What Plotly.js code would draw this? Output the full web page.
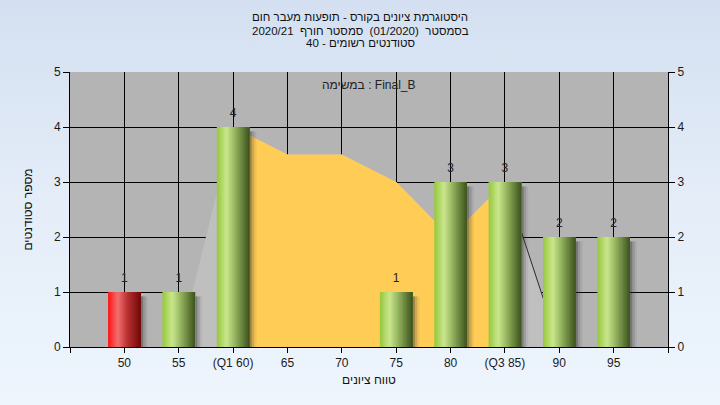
<!DOCTYPE html>
<html><head><meta charset="utf-8">
<script src="https://cdn.plot.ly/plotly-3.0.1.min.js"></script>
<style>
html,body{margin:0;padding:0;}
body{width:720px;height:405px;background:linear-gradient(to bottom,#d4e0f1 0%,#e4edf8 50%,#eef5fd 100%);overflow:hidden;}
#chart{width:720px;height:405px;}
</style></head><body><div id="chart"></div>
<script>
// ---- data ----
const categories = ['50','55','(Q1 60)','65','70','75','80','(Q3 85)','90','95'];
const gradeValues = [50,55,60,65,70,75,80,85,90,95];
const studentCounts = [1,1,4,0,0,1,3,3,2,2];
const failGrades = [50];
const outerAreaX = [55,60,65,70,75,80,85,90];
const outerAreaY = [0,4,3.5,3.5,3,2,3,0];
const iqrAreaX = [60,65,70,75,80,85];
const iqrAreaY = [4,3.5,3.5,3,2,3];
const edgeLineX = [85,90];
const edgeLineY = [3,0];
const titleLines = ['היסטוגרמת ציונים בקורס - תופעות מעבר חום','בסמסטר  (01/2020)  סמסטר חורף  2020/21','סטודנטים רשומים - 40'];
const taskLabel = 'במשימה : Final_B';
const xTitle = 'טווח ציונים';
const yTitle = 'מספר סטודנטים';

// ---- styling ----
const FONT = 'Liberation Sans, Arial, sans-serif';
const BAR_W = 3;
const N = 24;
const greenStops = [[0,[150,200,58]],[0.3,[202,230,142]],[0.55,[150,182,96]],[1,[60,82,28]]];
const redStops = [[0,[255,18,18]],[0.3,[240,112,112]],[0.6,[185,48,48]],[1,[112,8,8]]];
function grad(stops,t){
  for(let i=0;i<stops.length-1;i++){
    const [t0,c0]=stops[i],[t1,c1]=stops[i+1];
    if(t>=t0&&t<=t1){const f=(t-t0)/(t1-t0);
      return 'rgb('+c0.map((v,k)=>Math.round(v+(c1[k]-v)*f)).join(',')+')';}
  }
  return 'rgb('+stops[stops.length-1][1].join(',')+')';
}
const traces = [];
// background areas on base subplot
traces.push({type:'scatter',x:outerAreaX,y:outerAreaY,fill:'tozeroy',fillcolor:'#bfbfbf',mode:'none',hoverinfo:'skip',showlegend:false});
traces.push({type:'scatter',x:iqrAreaX,y:iqrAreaY,fill:'tozeroy',fillcolor:'#ffcc56',mode:'none',hoverinfo:'skip',showlegend:false});
traces.push({type:'scatter',x:edgeLineX,y:edgeLineY,mode:'lines',line:{color:'#2a2a2a',width:1},hoverinfo:'skip',showlegend:false});
// bars on overlaying subplot (drawn above the areas)
const shadowY = studentCounts.map(v=>v>0?v-0.08:0);
[[0.0,0.22,'rgba(40,40,40,0.45)'],[0.22,0.22,'rgba(60,60,60,0.25)'],[0.44,0.2,'rgba(80,80,80,0.1)']].forEach(([o,w,c])=>{
  traces.push({type:'bar',xaxis:'x2',yaxis:'y2',x:gradeValues,y:shadowY,width:w,offset:BAR_W/2+o,marker:{color:c,line:{width:0}},hoverinfo:'skip',showlegend:false});
});
for(let i=0;i<N;i++){
  const t=(i+0.5)/N;
  traces.push({type:'bar',xaxis:'x2',yaxis:'y2',x:gradeValues,y:studentCounts,width:BAR_W-i*BAR_W/N,offset:-BAR_W/2+i*BAR_W/N,
    marker:{color:gradeValues.map(g=>failGrades.includes(g)?grad(redStops,t):grad(greenStops,t)),line:{width:0}},
    hoverinfo:'skip',showlegend:false});
}
const lx=[],ly=[],lt=[];
gradeValues.forEach((g,i)=>{if(studentCounts[i]>0){lx.push(g);ly.push(studentCounts[i]);lt.push(String(studentCounts[i]));}});
traces.push({type:'scatter',xaxis:'x2',yaxis:'y2',mode:'markers+text',x:lx,y:ly,text:lt,textposition:'top center',
  marker:{size:9,color:'rgba(0,0,0,0)'},textfont:{family:FONT,size:12,color:'#222'},cliponaxis:false,hoverinfo:'skip',showlegend:false});

const tickVals=[gradeValues[0]-5,...gradeValues,gradeValues[gradeValues.length-1]+5];
const tickText=['',...categories,''];
const xRange=[tickVals[0],tickVals[tickVals.length-1]];
const layout={
  width:720,height:405,
  margin:{l:70,r:52,t:72,b:58},
  paper_bgcolor:'rgba(0,0,0,0)',plot_bgcolor:'#b4b4b4',
  font:{family:FONT,size:12,color:'#222'},
  barmode:'overlay',showlegend:false,
  title:{text:titleLines[0],x:0.5,xanchor:'center',xref:'container',yref:'container',y:(405-17)/405,yanchor:'middle',font:{family:FONT,size:11.5,color:'#111'}},
  xaxis:{range:xRange,tickmode:'array',tickvals:tickVals,ticktext:tickText,
    ticks:'outside',ticklen:5,tickcolor:'#000',showline:true,linecolor:'#000',linewidth:1,
    showgrid:true,gridcolor:'#000',gridwidth:1,zeroline:false,tickfont:{family:FONT,size:12,color:'#1a1a1a'},
    title:{text:xTitle,font:{family:FONT,size:12,color:'#111'},standoff:6},fixedrange:true},
  xaxis2:{overlaying:'x',range:xRange,showgrid:false,showline:false,zeroline:false,showticklabels:false,ticks:'',fixedrange:true},
  yaxis:{range:[0,5],tick0:0,dtick:1,ticks:'outside',ticklen:6,tickcolor:'#000',showline:true,linecolor:'#000',
    showgrid:true,gridcolor:'#000',gridwidth:1,zeroline:false,tickfont:{family:FONT,size:12,color:'#1a1a1a'},
    title:{text:yTitle,font:{family:FONT,size:12,color:'#111'},standoff:18},fixedrange:true},
  yaxis2:{overlaying:'y',side:'right',range:[0,5],tick0:0,dtick:1,ticks:'outside',ticklen:6,tickcolor:'#000',
    showline:true,linecolor:'#000',showgrid:false,zeroline:false,tickfont:{family:FONT,size:12,color:'#1a1a1a'},fixedrange:true},
  annotations:[
    {text:titleLines[1],xref:'paper',yref:'paper',x:(360-70)/598,y:(347-31)/275,xanchor:'center',yanchor:'middle',showarrow:false,font:{family:FONT,size:11.5,color:'#111'}},
    {text:titleLines[2],xref:'paper',yref:'paper',x:(360-70)/598,y:(347-43)/275,xanchor:'center',yanchor:'middle',showarrow:false,font:{family:FONT,size:11.5,color:'#111'}},
    {text:taskLabel,xref:'paper',yref:'paper',x:0.5,y:(347-85)/275,xanchor:'center',yanchor:'middle',showarrow:false,font:{family:FONT,size:12,color:'#222'}}
  ]
};
Plotly.newPlot('chart',traces,layout,{staticPlot:true,displayModeBar:false});
</script></body></html>
